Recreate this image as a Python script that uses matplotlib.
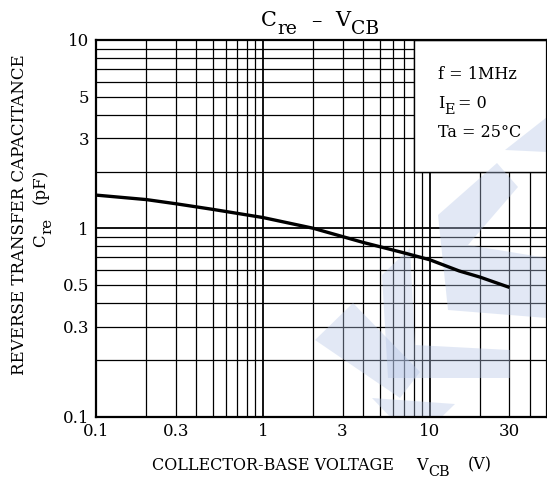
import matplotlib
matplotlib.use('Agg')
import matplotlib.pyplot as plt
from matplotlib.patches import Rectangle, Polygon
from matplotlib.ticker import FixedLocator, NullFormatter
from matplotlib.transforms import IdentityTransform

plt.rcParams['font.family'] = ['DejaVu Serif']

# curve
vcb = [0.1, 0.2, 0.3, 0.5, 1, 2, 4, 7, 10, 15, 20, 30]
cre = [1.50, 1.42, 1.35, 1.26, 1.14, 1.0, 0.84, 0.74, 0.68, 0.593, 0.55, 0.485]

x_ticks = [0.1, 0.3, 1, 3, 10, 30]
x_ticklabels = ['0.1', '0.3', '1', '3', '10', '30']
y_ticks = [0.1, 0.3, 0.5, 1, 3, 5, 10]
y_ticklabels = ['0.1', '0.3', '0.5', '1', '3', '5', '10']
x_grid = [0.2, 0.3, 0.4, 0.5, 0.6, 0.7, 0.8, 0.9, 1, 2, 3, 4, 5, 6, 7, 8, 9, 10, 20, 30, 40]
y_grid = [0.2, 0.3, 0.4, 0.5, 0.6, 0.7, 0.8, 0.9, 1, 2, 3, 4, 5, 6, 7, 8, 9]

# (text, is_subscript, gap after in px)
title = [('C', False, 0), ('re', True, 14), ('–', False, 14), ('V', False, 0), ('CB', True, 0)]
xlabel = [('COLLECTOR-BASE VOLTAGE', False, 22), ('V', False, 0), ('CB', True, 18), ('(V)', False, 0)]
ylabel1 = [('REVERSE TRANSFER CAPACITANCE', False, 0)]
ylabel2 = [('C', False, 0), ('re', True, 14), ('(pF)', False, 0)]
conditions = [
    [('f = 1MHz', False, 0)],
    [('I', False, 0), ('E', True, 3), ('= 0', False, 0)],
    [('Ta = 25°C', False, 0)],
]

W, H = 547, 479
fig = plt.figure(figsize=(W / 100, H / 100), dpi=100)
renderer = fig.canvas.get_renderer()


def rich_text(cx, cy, pieces, size, rotation=0, align='center', sub_scale=0.9):
    '''draw text pieces in a row, subscripts lowered; cx, cy in pixels from top-left'''
    px = size * 100 / 72
    sizes, widths = [], []
    for s, sub, gap in pieces:
        fs = size * sub_scale if sub else size
        t = fig.text(0, 0, s, fontsize=fs, transform=IdentityTransform())
        widths.append(t.get_window_extent(renderer).width)
        t.remove()
        sizes.append(fs)
    total = sum(widths) + sum(p[2] for p in pieces)
    pos = -total / 2 if align == 'center' else 0
    base = 0.36 * px  # baseline offset so that cy is roughly the centre of caps
    for (s, sub, gap), fs, w in zip(pieces, sizes, widths):
        drop = 0.38 * px if sub else 0
        if rotation == 0:
            x, y = cx + pos, H - cy - base - drop
        else:
            x, y = cx + base + drop, H - cy + pos
        fig.text(x, y, s, fontsize=fs, rotation=rotation, rotation_mode='anchor',
                 ha='left', va='baseline', transform=IdentityTransform())
        pos += w + gap


ax = fig.add_axes([96 / W, 1 - 416.5 / H, (546.5 - 96) / W, (416.5 - 40) / H])
ax.set_xscale('log')
ax.set_yscale('log')
ax.set_xlim(0.1, 50)
ax.set_ylim(0.1, 10)

# grid drawn by hand so the condition box can hide part of it
for v in x_grid:
    ax.axvline(v, color='black', lw=1.3 if v in (1, 10) else 0.9, zorder=0.5)
for v in y_grid:
    ax.axhline(v, color='black', lw=1.3 if v == 1 else 0.9, zorder=0.5)

# white box holding the test conditions
ax.add_patch(Rectangle((8, 2), 50 - 8, 10 - 2, facecolor='white',
                       edgecolor='black', lw=1.0, zorder=1))

# faint watermark (pixel outlines of the logo, figure coordinates)
marks = [
    [(315, 340), (353, 303), (420, 372), (400, 398)],
    [(372, 398), (455, 404), (415, 443)],
    [(382, 275), (410, 248), (415, 345), (510, 350), (510, 378), (388, 378)],
    [(438, 215), (497, 163), (518, 187), (468, 245), (547, 258), (547, 318), (448, 310)],
    [(505, 150), (547, 117), (547, 152)],
]
for pts in marks:
    ax.add_patch(Polygon([(px / W, 1 - py / H) for px, py in pts], closed=True,
                         transform=fig.transFigure, facecolor='#b4c5e6',
                         alpha=0.38, edgecolor='none', zorder=1.2))

ax.plot(vcb, cre, color='black', lw=2.4, solid_capstyle='butt', zorder=3)

ax.xaxis.set_major_locator(FixedLocator(x_ticks))
ax.xaxis.set_minor_locator(FixedLocator([]))
ax.set_xticklabels(x_ticklabels)
ax.yaxis.set_major_locator(FixedLocator(y_ticks))
ax.yaxis.set_minor_locator(FixedLocator([]))
ax.yaxis.set_minor_formatter(NullFormatter())
ax.set_yticklabels(y_ticklabels)
ax.tick_params(length=0, labelsize=12, pad=5)

for sp in ax.spines.values():
    sp.set_linewidth(1.6)
    sp.set_zorder(5)

rich_text(320, 19, title, 15)
rich_text(322, 464, xlabel, 11.5)
rich_text(18, 215, ylabel1, 12, rotation=90)
rich_text(39, 208, ylabel2, 12, rotation=90)
for i, line in enumerate(conditions):
    rich_text(438, 73 + i * 29, line, 11.5, align='left')

fig.savefig('out.png', dpi=100)
